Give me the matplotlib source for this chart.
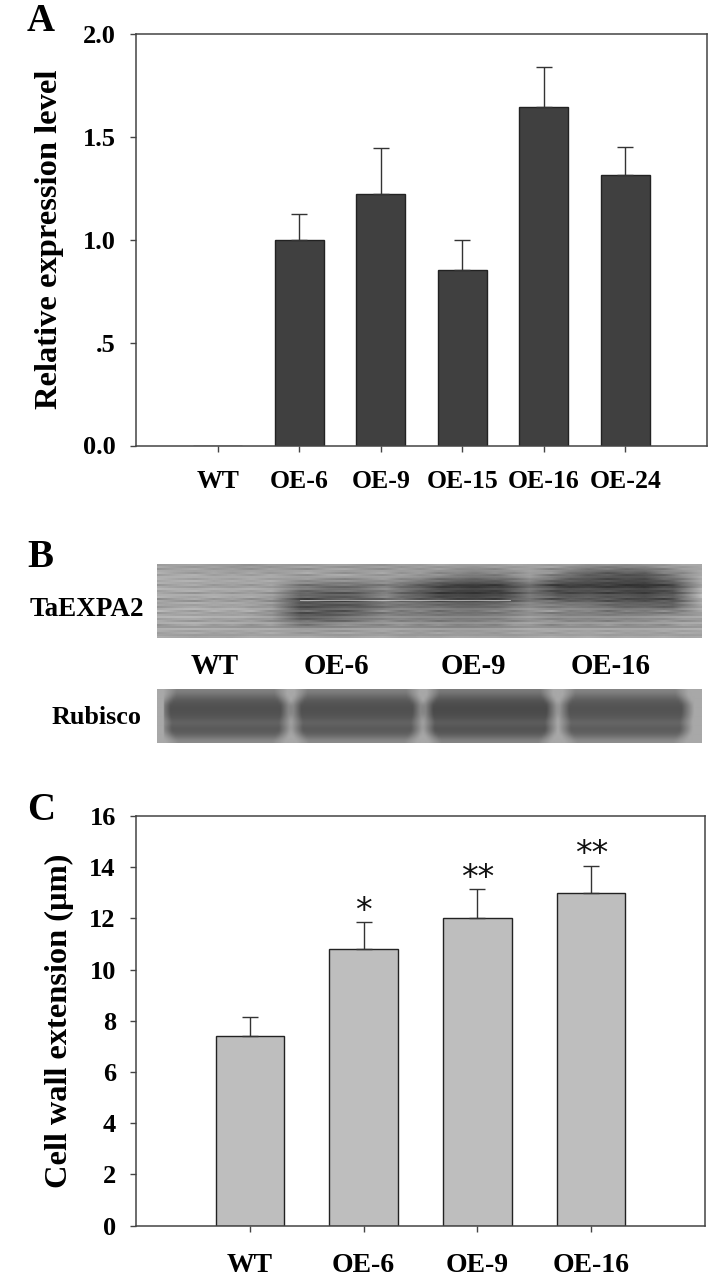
import numpy as np
import matplotlib
matplotlib.use('Agg')
import matplotlib.pyplot as plt

W, H = 720, 1276
plt.rcParams['font.family'] = ['Liberation Serif', 'DejaVu Serif']
plt.rcParams['font.weight'] = 'bold'

# panel A
a_labels = ['WT', 'OE-6', 'OE-9', 'OE-15', 'OE-16', 'OE-24']
a_values = [0, 1.0, 1.22, 0.855, 1.645, 1.315]
a_errors = [0, 0.125, 0.225, 0.145, 0.195, 0.135]
a_ticks = [0, 0.5, 1.0, 1.5, 2.0]
a_ticklabels = ['0.0', '.5', '1.0', '1.5', '2.0']

# panel C
c_labels = ['WT', 'OE-6', 'OE-9', 'OE-16']
c_values = [7.4, 10.8, 12.0, 13.0]
c_errors = [0.75, 1.05, 1.15, 1.05]
c_marks = ['', '*', '**', '**']
c_ticks = [0, 2, 4, 6, 8, 10, 12, 14, 16]

# panel B, blot grey levels (top row first)
blot_labels = ['WT', 'OE-6', 'OE-9', 'OE-16']
taexpa2_grid = [
    [165, 160, 160, 150, 155, 160, 160, 155, 155, 160, 165, 160, 165, 165, 165, 150, 145, 150, 165, 170],
    [170, 170, 165, 165, 165, 160, 165, 160, 160, 155, 140, 125, 130, 160, 125, 95, 85, 85, 125, 170],
    [170, 170, 165, 165, 165, 130, 120, 120, 135, 105, 75, 65, 70, 115, 70, 70, 65, 60, 80, 165],
    [165, 165, 165, 160, 155, 90, 90, 95, 125, 90, 65, 60, 65, 115, 80, 85, 80, 70, 85, 180],
    [160, 165, 165, 165, 150, 85, 85, 90, 120, 120, 110, 105, 115, 140, 130, 125, 105, 105, 100, 165],
    [170, 170, 165, 165, 150, 90, 95, 115, 135, 130, 125, 125, 130, 150, 135, 135, 135, 140, 150, 160],
    [170, 170, 170, 165, 165, 150, 150, 155, 160, 155, 150, 150, 155, 165, 160, 160, 160, 160, 165, 170],
    [155, 155, 150, 155, 160, 155, 155, 155, 155, 150, 155, 155, 150, 155, 155, 160, 155, 155, 155, 155],
]
streaks_left = [-10, 8, -22, 5, 14, -18, 6, 12, -8, 10, -25, 4, 15, -12, 6, 8, 20, -30, 12, -6,
                8, -15, 5, 30, -20, 4, 10, -14, 6, 2, -28, -16, 8, 12, -8, 5, 18]
streaks_right = [6, -14, 10, -5, -20, 12, 4, -16, 14, -9, 7, -18, 3, 16, -24, 9, -6, 12, -28, 15,
                 -10, 6, 18, -22, 8, -12, 14, 3, -26, 10, 5, -18, 12, -9, 16, -4, 8]
streak_weight = [0.9, 0.4, 0.1, 0.7, 0.3, 0.8, 0.2, 0.6, 1.0, 0.3, 0.0, 0.5, 0.9, 0.2, 0.7, 0.1, 0.6, 0.4,
                 0.8, 0.2, 0.5, 1.0, 0.3, 0.6, 0.1, 0.7, 0.4, 0.9, 0.2, 0.5]
rubisco_rows = [130, 108, 90, 82, 80, 82, 88, 102, 90, 90, 108, 140]
rubisco_inset = [6, 6, 3, 0, 0, 0, 1, 2, 1, 2, 5, 8]
lane_left = [164, 295, 427, 563]
lane_right = [287, 419, 553, 688]
lane_shift = [0, 0, -6, 3]


def px_axes(fig, left, top, right, bottom):
    return fig.add_axes([left / W, 1 - bottom / H, (right - left) / W, (bottom - top) / H])


def bar_panel(ax, labels, values, errors, color, ylim, ticks, ticklabels, ylabel, xsize, ylabsize, xpad):
    x = np.arange(len(labels))
    ax.bar(x, values, width=0.6, color=color, edgecolor='#222222', linewidth=1.0)
    for xi, v, e in zip(x, values, errors):
        if e > 0:
            ax.errorbar(xi, v, yerr=[[0], [e]], color='#333333', elinewidth=1.0,
                        capsize=6, capthick=1.0)
    ax.set_xlim(-1, len(labels))
    ax.set_ylim(*ylim)
    ax.set_xticks(x)
    ax.set_xticklabels(labels, fontsize=xsize, fontweight='bold')
    ax.set_yticks(ticks)
    ax.set_yticklabels(ticklabels, fontsize=19, fontweight='bold')
    ax.tick_params(axis='both', direction='out', length=4.5, width=1.0, color='#444444')
    ax.tick_params(axis='x', pad=xpad)
    ax.tick_params(axis='y', pad=10)
    ax.set_ylabel(ylabel, fontsize=ylabsize, fontweight='bold')
    for s in ax.spines.values():
        s.set_color('#444444')
        s.set_linewidth(1.1)


fig = plt.figure(figsize=(W / 100, H / 100), dpi=100)
fig.patch.set_facecolor('white')

ax_a = px_axes(fig, 136, 34, 707, 445.5)
bar_panel(ax_a, a_labels, a_values, a_errors, '#404040', (0, 2), a_ticks, a_ticklabels,
          'Relative expression level', 18.5, 23.4, 13)
ax_a.yaxis.set_label_coords((64 - 136) / 571, 0.5)

ax_c = px_axes(fig, 136, 816, 705, 1225.7)
bar_panel(ax_c, c_labels, c_values, c_errors, '#bebebe', (0, 16), c_ticks,
          [str(t) for t in c_ticks], 'Cell wall extension (\u00b5m)', 20, 23.3, 15)
ax_c.yaxis.set_label_coords((74 - 136) / 569, 0.5)
for i, mark in enumerate(c_marks):
    if mark:
        ax_c.annotate(mark, (i, c_values[i] + c_errors[i]), xytext=(0, -4), textcoords='offset points',
                      ha='center', va='bottom', fontsize=24, fontweight='normal',
                      family=['DejaVu Sans'], color='#111111')

# western blot
ax_b1 = px_axes(fig, 157, 564, 702, 638)
grid = np.array(taexpa2_grid, dtype=float)
rows = np.linspace(0, 7, 74)
cols = np.linspace(0, 19, 545)
r0 = np.clip(rows.astype(int), 0, 6)
c0 = np.clip(cols.astype(int), 0, 18)
fr = (rows - r0)[:, None]
fc = (cols - c0)[None, :]
img = (grid[np.ix_(r0, c0)] * (1 - fr) * (1 - fc) + grid[np.ix_(r0 + 1, c0)] * fr * (1 - fc)
       + grid[np.ix_(r0, c0 + 1)] * (1 - fr) * fc + grid[np.ix_(r0 + 1, c0 + 1)] * fr * fc)
sl = np.repeat(np.array(streaks_left, dtype=float), 2)[:74]
sr = np.repeat(np.array(streaks_right, dtype=float), 2)[:74]
wt = np.interp(np.linspace(0, 29, 545), np.arange(30), streak_weight)
img = np.clip(img + sl[:, None] * wt[None, :] + sr[:, None] * (1 - wt[None, :]), 0, 255)
ax_b1.imshow(img, cmap='gray', vmin=0, vmax=255, aspect='auto', interpolation='nearest',
             extent=(157, 702, 638, 564))
ax_b1.plot([300, 510], [600, 600], color='#e8e8e8', lw=0.6, alpha=0.7)
ax_b1.set_xlim(157, 702)
ax_b1.set_ylim(638, 564)
ax_b1.axis('off')

ax_b2 = px_axes(fig, 157, 689, 702, 743)
img2 = np.full((12, 545), 168.0)
for left, right, shift in zip(lane_left, lane_right, lane_shift):
    for r in range(12):
        img2[r, left - 157 + rubisco_inset[r]:right - 157 - rubisco_inset[r]] = rubisco_rows[r] + shift
kernel = np.ones(13) / 13
img2 = np.array([np.convolve(row, kernel, mode='same') for row in img2])
img2[:, :7] = 168
img2[:, -7:] = 168
ax_b2.imshow(img2, cmap='gray', vmin=0, vmax=255, aspect='auto', interpolation='bicubic')
ax_b2.axis('off')

for lab, xc in zip(blot_labels, [215, 336, 473, 611]):
    fig.text(xc / W, 1 - 666 / H, lab, ha='center', va='center', fontsize=20.8, fontweight='bold')
fig.text(30 / W, 1 - 609 / H, 'TaEXPA2', ha='left', va='center', fontsize=19.5, fontweight='bold')
fig.text(52 / W, 1 - 717 / H, 'Rubisco', ha='left', va='center', fontsize=18.8, fontweight='bold')

fig.text(27 / W, 1 - 31 / H, 'A', ha='left', va='baseline', fontsize=28, fontweight='bold')
fig.text(27 / W, 1 - 567 / H, 'B', ha='left', va='baseline', fontsize=28, fontweight='bold')
fig.text(27 / W, 1 - 820 / H, 'C', ha='left', va='baseline', fontsize=28, fontweight='bold')

fig.savefig('out.png', dpi=100, facecolor='white')
